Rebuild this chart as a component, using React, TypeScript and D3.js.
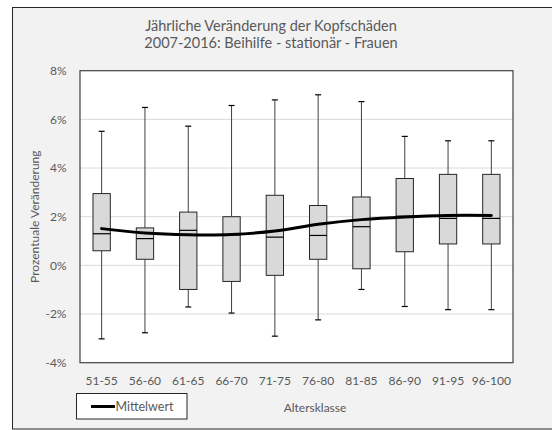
import React from "react";
import * as d3 from "d3";

// Age classes and yearly change distribution (in %)
const categories = ["51-55", "56-60", "61-65", "66-70", "71-75", "76-80", "81-85", "86-90", "91-95", "96-100"];
const whiskerHigh = [5.51, 6.49, 5.72, 6.57, 6.8, 7.01, 6.73, 5.3, 5.12, 5.12];
const boxHigh = [2.95, 1.54, 2.19, 2.0, 2.88, 2.46, 2.81, 3.57, 3.74, 3.74];
const medians = [1.3, 1.1, 1.44, 1.25, 1.16, 1.23, 1.59, 2.02, 1.93, 1.93];
const boxLow = [0.6, 0.25, -0.99, -0.66, -0.41, 0.25, -0.14, 0.56, 0.88, 0.88];
const whiskerLow = [-3.02, -2.77, -1.71, -1.96, -2.91, -2.24, -0.99, -1.69, -1.82, -1.82];
const means = [1.51, 1.33, 1.26, 1.27, 1.41, 1.69, 1.88, 1.99, 2.05, 2.05];
const yTicks = [-4, -2, 0, 2, 4, 6, 8];

const W = 552;
const H = 430;
const plot = { left: 80, right: 513, top: 70.7, bottom: 362.7 };
const FONT = "Lato, 'Liberation Sans', sans-serif";
const TEXT = "#595959";

export default function App() {
  const x = d3.scaleBand<string>().domain(categories).range([plot.left, plot.right]).paddingInner(0).paddingOuter(0);
  const y = d3.scaleLinear().domain([-4, 8]).range([plot.bottom, plot.top]);
  const bw = x.bandwidth() * 0.4;
  const cx = (c: string) => (x(c) as number) + x.bandwidth() / 2;

  const meanLine = d3
    .line<number>()
    .x((_, i) => cx(categories[i]))
    .y((d) => y(d))
    .curve(d3.curveCatmullRom.alpha(0.5));

  return (
    <svg width={W} height={H} style={{ position: "absolute", left: 0, top: 0, display: "block" }}>
      <rect x={0} y={0} width={W} height={H} fill="#ffffff" />
      <rect x={12.5} y={7.5} width={W + 10} height={421.5} fill="#f2f2f2" stroke="#262626" strokeWidth={1} />

      <text x={271} y={31} textAnchor="middle" fontFamily={FONT} fontSize={14.5} fill={TEXT}>
        Jährliche Veränderung der Kopfschäden
      </text>
      <text x={271} y={47.5} textAnchor="middle" fontFamily={FONT} fontSize={14.5} fill={TEXT}>
        2007-2016: Beihilfe - stationär - Frauen
      </text>

      <rect x={plot.left} y={plot.top} width={plot.right - plot.left} height={plot.bottom - plot.top} fill="#ffffff" />
      {yTicks.map((t) => (
        <g key={t}>
          {t !== -4 && t !== 8 && (
            <line x1={plot.left} x2={plot.right} y1={y(t)} y2={y(t)} stroke="#d9d9d9" strokeWidth={1} />
          )}
          <text x={66.5} y={y(t)} dy="0.35em" textAnchor="end" fontFamily={FONT} fontSize={12} fill={TEXT}>
            {`${t}%`}
          </text>
        </g>
      ))}
      <rect
        x={plot.left}
        y={plot.top}
        width={plot.right - plot.left}
        height={plot.bottom - plot.top}
        fill="none"
        stroke="#404040"
        strokeWidth={1.2}
      />

      {categories.map((c, i) => {
        const m = cx(c);
        return (
          <g key={c}>
            <line x1={m} x2={m} y1={y(whiskerHigh[i])} y2={y(boxHigh[i])} stroke="#404040" strokeWidth={1} />
            <line x1={m} x2={m} y1={y(boxLow[i])} y2={y(whiskerLow[i])} stroke="#404040" strokeWidth={1} />
            <line x1={m - 3} x2={m + 3} y1={y(whiskerHigh[i])} y2={y(whiskerHigh[i])} stroke="#000" strokeWidth={1.2} />
            <line x1={m - 3} x2={m + 3} y1={y(whiskerLow[i])} y2={y(whiskerLow[i])} stroke="#000" strokeWidth={1.2} />
            <rect
              x={m - bw / 2}
              y={y(boxHigh[i])}
              width={bw}
              height={y(boxLow[i]) - y(boxHigh[i])}
              fill="#d9d9d9"
              stroke="#262626"
              strokeWidth={1}
            />
            <line x1={m - bw / 2} x2={m + bw / 2} y1={y(medians[i])} y2={y(medians[i])} stroke="#000" strokeWidth={1.2} />
            <text x={m} y={380.5} dy="0.35em" textAnchor="middle" fontFamily={FONT} fontSize={12} fill={TEXT}>
              {c}
            </text>
          </g>
        );
      })}

      <path d={meanLine(means) ?? ""} fill="none" stroke="#000" strokeWidth={3} strokeLinecap="round" />

      <text
        transform={`translate(35,${(plot.top + plot.bottom) / 2}) rotate(-90)`}
        textAnchor="middle"
        dy="0.35em"
        fontFamily={FONT}
        fontSize={12}
        fill={TEXT}
      >
        Prozentuale Veränderung
      </text>
      <text x={315} y={407.5} dy="0.35em" textAnchor="middle" fontFamily={FONT} fontSize={12} fill={TEXT}>
        Altersklasse
      </text>

      <rect x={76.5} y={393.5} width={110.5} height={25.5} fill="#ffffff" stroke="#262626" strokeWidth={1} />
      <line x1={91} x2={115} y1={406.5} y2={406.5} stroke="#000" strokeWidth={3} />
      <text x={115.5} y={406.5} dy="0.35em" fontFamily={FONT} fontSize={12.5} fill={TEXT}>
        Mittelwert
      </text>
    </svg>
  );
}
